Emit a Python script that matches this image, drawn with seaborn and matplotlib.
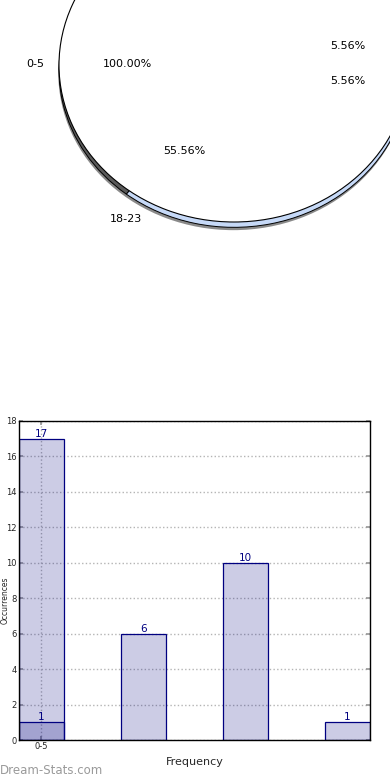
import matplotlib
matplotlib.use("Agg")
import matplotlib.pyplot as plt
import seaborn as sns

# ---- data ----
categories = ["0-5", "6-11", "12-17", "18-23"]
counts = [17, 6, 10, 1]
overlay_cat = ["0-5"]
overlay_counts = [1]

pie_side_sizes = [10, 8]          # coloured rim of the (broken) 3d pie
pie_labels = ["0-5", "100.00%", "5.56%", "5.56%", "55.56%", "18-23"]
# label positions in pie units (radius = 1)
pie_label_pos = [(-1.137, 0.006), (-0.606, 0.006), (0.651, 0.121),
                 (0.651, -0.102), (-0.286, -0.548), (-0.617, -0.981)]

sns.set_theme(style="white")
plt.rcParams['font.family'] = ['DejaVu Sans']

W, H = 390, 780
fig = plt.figure(figsize=(W / 100, H / 100), dpi=100)

# ========================
# Pie (top)
# ========================
ax_pie = fig.add_axes([0, 1 - 240 / H, 1, 240 / H])
ax_pie.pie([1], colors=["#8a8a8a"], center=(-0.004, -0.052),
           wedgeprops=dict(linewidth=0))
ax_pie.pie(pie_side_sizes, colors=["#c6d9f7", "#5a5a5a"], startangle=-128,
           center=(0, -0.034),
           wedgeprops=dict(edgecolor="black", linewidth=0.7))
ax_pie.pie([1], colors=["white"],
           wedgeprops=dict(edgecolor="black", linewidth=0.8))
for lab, (x, y) in zip(pie_labels, pie_label_pos):
    ax_pie.text(x, y, lab, ha="center", va="center", fontsize=8, color="black")
ax_pie.set_aspect("auto")
ax_pie.set_xlim(-234 / 175, (W - 234) / 175)
ax_pie.set_ylim(-(240 - 65) / 157, 65 / 157)
ax_pie.axis("off")

# ========================
# Bar chart (bottom)
# ========================
ax = fig.add_axes([19 / W, 1 - 740 / H, 351 / W, 319 / H])
sns.barplot(x=categories, y=counts, order=categories, color="navy",
            width=0.44, saturation=1, ax=ax)
sns.barplot(x=overlay_cat, y=overlay_counts, order=categories, color="navy",
            width=0.44, saturation=1, ax=ax)
for p in ax.patches:
    p.set_facecolor((0, 0, 0.5, 0.2))
    p.set_edgecolor("navy")
    p.set_linewidth(0.9)

for cont in ax.containers:
    ax.bar_label(cont, fmt="%d", color="navy", fontsize=7.5, padding=0)

ax.set_xlim(-0.22, 3.22)
ax.set_ylim(0, 18)
ax.set_yticks(range(0, 19, 2))
ax.set_xticks([0])
ax.set_xticklabels(["0-5"])
ax.grid(True, axis="both", linestyle=":", color="#b4b4b4", linewidth=1)
ax.set_axisbelow(True)
ax.tick_params(axis="both", labelsize=6, direction="in", length=3,
               color="#999999", left=True, right=True, bottom=True, top=True,
               pad=1.5)
for s in ax.spines.values():
    s.set_color("black")
    s.set_linewidth(1)
ax.set_xlabel("Frequency", fontsize=8, labelpad=4)
ax.set_ylabel("Occurrences", fontsize=5.5)
# sits beside the single-digit tick labels so nothing overlaps
ax.yaxis.set_label_coords(-0.0256, 0.439)

fig.text(0, 3 / H, "Dream-Stats.com", fontsize=8.5, color="#9a9a9a",
         ha="left", va="bottom")

fig.savefig("out.png", dpi=100)
